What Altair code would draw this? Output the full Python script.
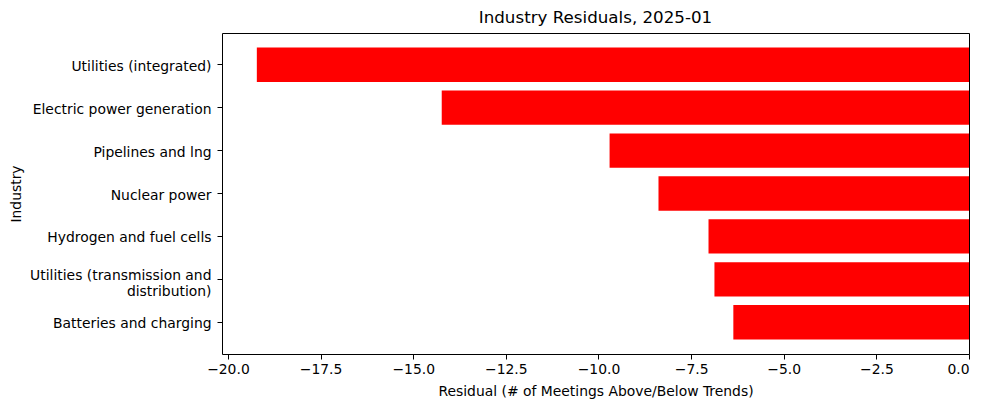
import altair as alt
import pandas as pd

industries = [
    "Utilities (integrated)",
    "Electric power generation",
    "Pipelines and lng",
    "Nuclear power",
    "Hydrogen and fuel cells",
    "Utilities (transmission and\ndistribution)",
    "Batteries and charging",
]
residuals = [-19.22, -14.23, -9.70, -8.38, -7.03, -6.87, -6.36]
x_ticks = [-20.0, -17.5, -15.0, -12.5, -10.0, -7.5, -5.0, -2.5, 0.0]

df = pd.DataFrame({"Industry": industries, "Residual": residuals})

FONT = "DejaVu Sans"

chart = (
    alt.Chart(df)
    .mark_bar(color="#ff0000")
    .encode(
        x=alt.X(
            "Residual:Q",
            scale=alt.Scale(domain=[-20.16, 0], nice=False, zero=False),
            axis=alt.Axis(
                values=x_ticks,
                format=".1f",
                title="Residual (# of Meetings Above/Below Trends)",
                titlePadding=9,
                labelPadding=3,
            ),
        ),
        y=alt.Y(
            "Industry:N",
            sort=industries,
            scale=alt.Scale(paddingInner=0.2, paddingOuter=0.34),
            axis=alt.Axis(
                title="Industry",
                labelExpr="split(datum.label, '\\n')",
                labelOffset={
                    "condition": {
                        "test": "indexof(datum.value, 'distribution') >= 0",
                        "value": -3,
                    },
                    "value": 2,
                },
                labelPadding=6,
                titlePadding=6,
                labelLimit=400,
            ),
        ),
    )
    .properties(
        width=747,
        height=321,
        title=alt.TitleParams(
            "Industry Residuals, 2025-01",
            font=FONT,
            fontSize=16.7,
            fontWeight="normal",
            color="black",
            anchor="middle",
            offset=6,
        ),
        autosize=alt.AutoSizeParams(type="none"),
        padding={"left": 214, "top": 25, "right": 12, "bottom": 48},
    )
    .configure_view(stroke="black", strokeWidth=1)
    .configure_axis(
        grid=False,
        domain=False,
        tickColor="black",
        tickSize=5,
        tickWidth=1,
        labelColor="black",
        labelFont=FONT,
        labelFontSize=13.9,
        titleFont=FONT,
        titleFontSize=13.9,
        titleFontWeight="normal",
        titleColor="black",
    )
)

chart.save("out.html", embed_options={"renderer": "svg", "actions": False})
